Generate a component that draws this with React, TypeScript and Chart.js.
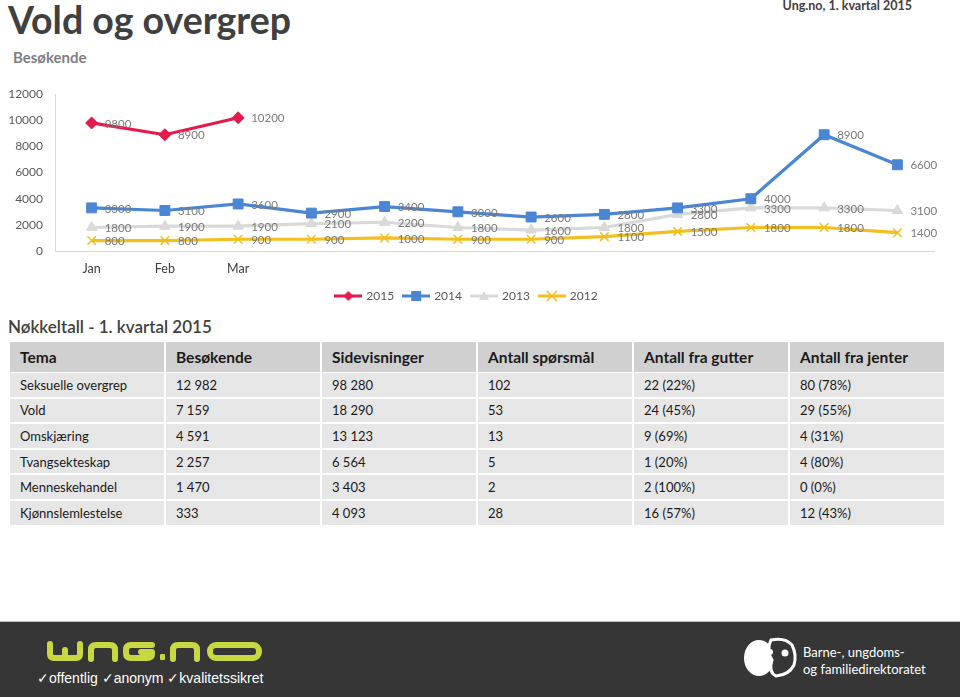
import React, { useEffect, useRef } from 'react';
import { Chart, registerables } from 'chart.js';

Chart.register(...registerables);

// ---------- data ----------
const monthLabels = ['Jan', 'Feb', 'Mar', '', '', '', '', '', '', '', '', ''];
const seriesNames = ['2015', '2014', '2013', '2012'];
const visitors2015 = [9800, 8900, 10200, null, null, null, null, null, null, null, null, null];
const visitors2014 = [3300, 3100, 3600, 2900, 3400, 3000, 2600, 2800, 3300, 4000, 8900, 6600];
const visitors2013 = [1800, 1900, 1900, 2100, 2200, 1800, 1600, 1800, 2800, 3300, 3300, 3100];
const visitors2012 = [800, 800, 900, 900, 1000, 900, 900, 1100, 1500, 1800, 1800, 1400];
const yMin = 0;
const yMax = 12000;
const yStep = 2000;

const tableHeader = ['Tema', 'Besøkende', 'Sidevisninger', 'Antall spørsmål', 'Antall fra gutter', 'Antall fra jenter'];
const tableRows = [
  ['Seksuelle overgrep', '12 982', '98 280', '102', '22 (22%)', '80 (78%)'],
  ['Vold', '7 159', '18 290', '53', '24 (45%)', '29 (55%)'],
  ['Omskjæring', '4 591', '13 123', '13', '9 (69%)', '4 (31%)'],
  ['Tvangsekteskap', '2 257', '6 564', '5', '1 (20%)', '4 (80%)'],
  ['Menneskehandel', '1 470', '3 403', '2', '2 (100%)', '0 (0%)'],
  ['Kjønnslemlestelse', '333', '4 093', '28', '16 (57%)', '12 (43%)'],
];

// ---------- styles ----------
const COLORS = ['#e5194b', '#4a86d4', '#d9d9d9', '#f2bf1e'];
const STYLES = ['rectRot', 'rect', 'triangle', 'crossRot'];
const RADII = [6, 7, 6, 6];
const FONT = 'Lato, "Open Sans", sans-serif';

function makeLegendImage(color: string, style: string): HTMLCanvasElement {
  const c = document.createElement('canvas');
  c.width = 28;
  c.height = 14;
  const ctx = c.getContext('2d')!;
  ctx.strokeStyle = color;
  ctx.fillStyle = color;
  ctx.lineWidth = 3;
  ctx.beginPath();
  ctx.moveTo(0, 7);
  ctx.lineTo(28, 7);
  ctx.stroke();
  const cx = 14, cy = 7;
  ctx.beginPath();
  if (style === 'rectRot') {
    ctx.moveTo(cx, cy - 5); ctx.lineTo(cx + 5, cy); ctx.lineTo(cx, cy + 5); ctx.lineTo(cx - 5, cy); ctx.closePath(); ctx.fill();
  } else if (style === 'rect') {
    ctx.rect(cx - 5, cy - 5, 10, 10); ctx.fill();
  } else if (style === 'triangle') {
    ctx.moveTo(cx, cy - 5); ctx.lineTo(cx + 5, cy + 4); ctx.lineTo(cx - 5, cy + 4); ctx.closePath(); ctx.fill();
  } else {
    ctx.lineWidth = 1.5;
    ctx.moveTo(cx - 5, cy - 5); ctx.lineTo(cx + 5, cy + 5);
    ctx.moveTo(cx + 5, cy - 5); ctx.lineTo(cx - 5, cy + 5);
    ctx.stroke();
  }
  return c;
}

const dataLabelPlugin = {
  id: 'dataLabels',
  afterDatasetsDraw(chart: any) {
    const ctx = chart.ctx;
    ctx.save();
    ctx.font = `11.5px ${FONT}`;
    ctx.fillStyle = '#7a7a7a';
    ctx.textAlign = 'left';
    ctx.textBaseline = 'middle';
    chart.data.datasets.forEach((ds: any, di: number) => {
      const meta = chart.getDatasetMeta(di);
      meta.data.forEach((pt: any, i: number) => {
        const v = ds.data[i];
        if (v === null || v === undefined) return;
        ctx.fillText(String(v), pt.x + 13, pt.y + 1);
      });
    });
    ctx.restore();
  },
};

function VisitorsChart() {
  const ref = useRef<HTMLCanvasElement>(null);
  useEffect(() => {
    const seriesData = [visitors2015, visitors2014, visitors2013, visitors2012];
    const legendImages = seriesNames.map((_, i) => makeLegendImage(COLORS[i], STYLES[i]));
    const chart = new Chart(ref.current!, {
      type: 'line',
      data: {
        labels: monthLabels,
        datasets: seriesNames.map((name, i) => ({
          label: name,
          data: seriesData[i],
          borderColor: COLORS[i],
          backgroundColor: COLORS[i],
          pointBackgroundColor: COLORS[i],
          pointBorderColor: COLORS[i],
          borderWidth: 3.2,
          pointStyle: STYLES[i] as any,
          pointRadius: RADII[i],
          pointBorderWidth: STYLES[i] === 'crossRot' ? 1.5 : 1,
          tension: 0,
          fill: false,
          spanGaps: false,
        })),
      },
      options: {
        animation: false,
        responsive: false,
        maintainAspectRatio: false,
        layout: { padding: { left: 0, right: 26, top: 14, bottom: 3 } },
        plugins: {
          tooltip: { enabled: false },
          legend: {
            position: 'bottom',
            labels: {
              usePointStyle: true,
              pointStyleWidth: 24,
              boxHeight: 12,
              padding: 10,
              color: '#595959',
              font: { family: FONT, size: 12 },
              generateLabels: () =>
                seriesNames.map((name, i) => ({
                  text: name,
                  pointStyle: legendImages[i] as any,
                  fillStyle: COLORS[i],
                  strokeStyle: COLORS[i],
                  lineWidth: 0,
                  hidden: false,
                  datasetIndex: i,
                  fontColor: '#595959',
                })),
            },
          },
        },
        scales: {
          x: {
            type: 'category',
            offset: true,
            grid: { display: false, drawTicks: false },
            border: { display: true, color: '#d9d9d9', width: 1 },
            ticks: {
              color: '#404040',
              font: { family: FONT, size: 12.5 },
              padding: 10,
              autoSkip: false,
              maxRotation: 0,
            },
            afterFit: (s: any) => { s.height = 29; },
          },
          y: {
            min: yMin,
            max: yMax,
            grid: { display: false, drawTicks: false },
            border: { display: true, color: '#d9d9d9', width: 1 },
            ticks: {
              stepSize: yStep,
              color: '#595959',
              font: { family: FONT, size: 12 },
              padding: 12,
              callback: (v: any) => String(v),
            },
            afterFit: (s: any) => { s.width = 55; },
          },
        },
      },
      plugins: [dataLabelPlugin],
    });
    return () => chart.destroy();
  }, []);
  return <canvas ref={ref} width={960} height={240} style={{ position: 'absolute', left: 0, top: 75, width: 960, height: 240 }} />;
}

const colX = [10, 166, 322, 478, 634, 790, 946];
const headerTop = 342;
const headerH = 30;
const rowTop0 = 373;
const rowPitch = 25.6;
const rowH = 23.6;

function KeyTable() {
  const cells: any[] = [];
  tableHeader.forEach((h, c) => {
    cells.push(
      <div key={'h' + c} style={{
        position: 'absolute', left: colX[c], top: headerTop, width: colX[c + 1] - colX[c] - 2, height: headerH,
        background: '#d0d0d0', boxSizing: 'border-box', paddingLeft: 10, display: 'flex', alignItems: 'center',
        fontWeight: 700, fontSize: 15.5, color: '#1a1a1a', fontFamily: FONT, whiteSpace: 'nowrap',
      }}>{h}</div>
    );
  });
  tableRows.forEach((row, r) => {
    row.forEach((v, c) => {
      cells.push(
        <div key={r + '-' + c} style={{
          position: 'absolute', left: colX[c], top: rowTop0 + r * rowPitch, width: colX[c + 1] - colX[c] - 2, height: rowH,
          background: '#e6e6e6', boxSizing: 'border-box', paddingLeft: 10, display: 'flex', alignItems: 'center',
          fontSize: 13, color: '#1a1a1a', fontFamily: FONT, whiteSpace: 'nowrap',
        }}>{v}</div>
      );
    });
  });
  return <>{cells}</>;
}

function Footer() {
  const lime = '#c8d843';
  return (
    <div style={{ position: 'absolute', left: 0, top: 621, width: 960, height: 76, background: '#363636', borderTop: '1px solid #bdbdbd', boxSizing: 'border-box' }}>
      <svg width={960} height={76} style={{ position: 'absolute', left: 0, top: -1 }}>
        <g transform="translate(0,-621)" fill="none" stroke={lime} strokeWidth={6} strokeLinejoin="round" strokeLinecap="round">
          <path d="M50,644 V654 Q50,658 54,658 H76 Q80,658 80,654 V644" />
          <path d="M65,650 V657" />
          <path d="M91,659 V650 Q91,645 96,645 H110 Q115,645 115,650 V659" />
          <path d="M152,645 H131 Q126,645 126,650 V653 Q126,658 131,658 H147 Q152,658 152,654 V652 H141" />
          <path d="M173,659 V650 Q173,645 178,645 H192 Q197,645 197,650 V659" />
          <rect x={210} y={645} width={49} height={13} rx={6} />
        </g>
        <rect x={160} y={33} width={5} height={6} fill={lime} rx={1} />
        <g transform="translate(0,-621)">
          <ellipse cx={759} cy={658} rx={15} ry={18} fill="#ffffff" />
          <path d="M771,640 Q785,637 792,645 Q797,655 794,665 Q789,675 776,676 Q768,672 772,660 Q766,650 771,640 Z" fill="#363636" stroke="#ffffff" strokeWidth={3} />
          <circle cx={770} cy={652} r={3} fill="#ffffff" />
          <circle cx={785} cy={653} r={3.5} fill="#ffffff" />
        </g>
      </svg>
      <div style={{ position: 'absolute', left: 37, top: 48, color: '#ffffff', fontFamily: '"Liberation Sans", Arial, sans-serif', fontSize: 14, whiteSpace: 'nowrap' }}>
        ✓offentlig ✓anonym ✓kvalitetssikret
      </div>
      <div style={{ position: 'absolute', left: 803, top: 22, color: '#ffffff', fontFamily: FONT, fontSize: 13, lineHeight: '17px', whiteSpace: 'nowrap' }}>
        Barne-, ungdoms-<br />og familiedirektoratet
      </div>
    </div>
  );
}

export default function App() {
  return (
    <div style={{ position: 'fixed', left: 0, top: 0, width: 960, height: 697, background: '#ffffff', overflow: 'hidden', fontFamily: FONT }}>
      <div style={{ position: 'absolute', left: 8, top: 1, fontSize: 37.5, lineHeight: '37px', fontWeight: 700, color: '#404040', whiteSpace: 'nowrap' }}>Vold og overgrep</div>
      <div style={{ position: 'absolute', left: 13, top: 48, fontSize: 15, lineHeight: '18px', fontWeight: 700, color: '#7f7f7f' }}>Besøkende</div>
      <div style={{ position: 'absolute', right: 48, top: -2, fontSize: 12.5, lineHeight: '16px', fontWeight: 700, color: '#404040' }}>Ung.no, 1. kvartal 2015</div>
      <VisitorsChart />
      <div style={{ position: 'absolute', left: 8, top: 316, fontSize: 17, lineHeight: '22px', fontWeight: 600, color: '#404040', whiteSpace: 'nowrap' }}>Nøkkeltall - 1. kvartal 2015</div>
      <KeyTable />
      <Footer />
    </div>
  );
}
